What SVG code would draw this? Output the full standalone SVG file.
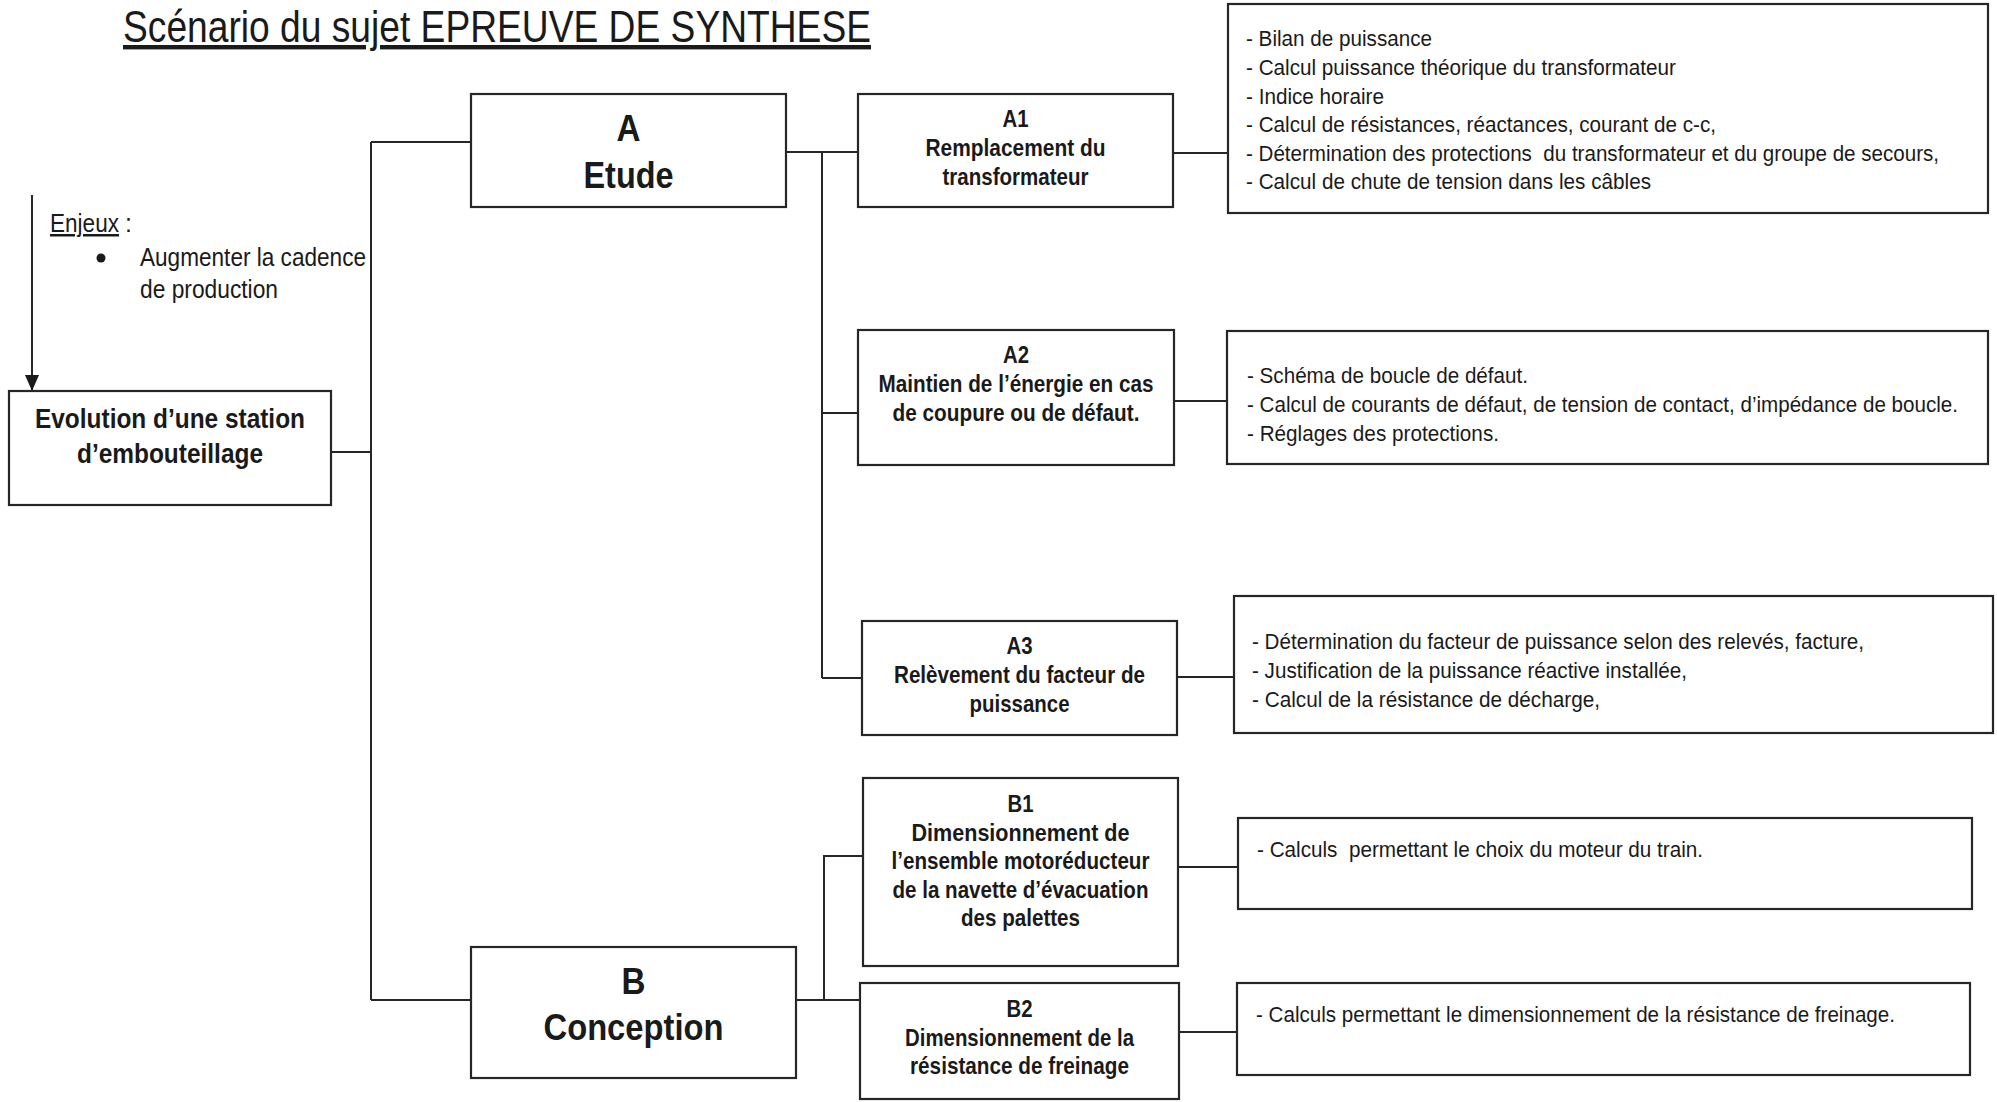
<svg xmlns="http://www.w3.org/2000/svg" width="1997" height="1102" viewBox="0 0 1997 1102">
<defs>
<marker id="arr" viewBox="0 0 16 14" refX="16" refY="7" markerWidth="16" markerHeight="14" markerUnits="userSpaceOnUse" orient="auto">
<path d="M0,0 L16,7 L0,14 Z" fill="#1a1a1a"/>
</marker>
<style>
.box{fill:#ffffff;stroke:#262626;stroke-width:2.2}
.ln{fill:none;stroke:#262626;stroke-width:2}
text{font-family:"Liberation Sans",Arial,sans-serif;fill:#1a1a1a}
.b{font-weight:bold;text-anchor:middle}
.s22{font-size:24px}
.s33{font-size:37px}
.s24{font-size:27px}
.d{font-size:22px}
.r{font-size:25px}
</style>
</defs>
<rect width="1997" height="1102" fill="#ffffff"/>

<g id="title">
<text x="123" y="42" font-size="44" textLength="748" lengthAdjust="spacingAndGlyphs" text-decoration="underline">Scénario du sujet EPREUVE DE SYNTHESE</text>
</g>

<g id="enjeux">
<text x="50" y="232" class="r" textLength="69" lengthAdjust="spacingAndGlyphs" text-decoration="underline">Enjeux</text>
<text x="125" y="232" class="r">:</text>
<circle cx="101" cy="258" r="4.5" fill="#1a1a1a"/>
<text x="140" y="266" class="r" textLength="226" lengthAdjust="spacingAndGlyphs">Augmenter la cadence</text>
<text x="140" y="298" class="r" textLength="138" lengthAdjust="spacingAndGlyphs">de production</text>
</g>

<g id="connectors">
<path class="ln" d="M32,195 V391" marker-end="url(#arr)"/>
<path class="ln" d="M331,452 H371"/>
<path class="ln" d="M371,142 V1000"/>
<path class="ln" d="M371,142 H471"/>
<path class="ln" d="M371,1000 H471"/>
<path class="ln" d="M786,152 H858"/>
<path class="ln" d="M822,152 V678"/>
<path class="ln" d="M822,413 H858"/>
<path class="ln" d="M822,678 H862"/>
<path class="ln" d="M1173,153 H1228"/>
<path class="ln" d="M1174,401 H1227"/>
<path class="ln" d="M1177,677 H1234"/>
<path class="ln" d="M796,1000 H860"/>
<path class="ln" d="M824,1000 V856 H863"/>
<path class="ln" d="M1178,867 H1238"/>
<path class="ln" d="M1179,1032 H1237"/>
</g>

<g id="node-evolution">
<rect class="box" x="9" y="391" width="322" height="114"/>
<text class="b s24" x="170" y="428" textLength="270" lengthAdjust="spacingAndGlyphs">Evolution d’une station</text>
<text class="b s24" x="170" y="463" textLength="186" lengthAdjust="spacingAndGlyphs">d’embouteillage</text>
</g>

<g id="node-A">
<rect class="box" x="471" y="94" width="315" height="113"/>
<text class="b s33" x="628.5" y="141" textLength="24" lengthAdjust="spacingAndGlyphs">A</text>
<text class="b s33" x="628.5" y="188" textLength="90" lengthAdjust="spacingAndGlyphs">Etude</text>
</g>

<g id="node-B">
<rect class="box" x="471" y="947" width="325" height="131"/>
<text class="b s33" x="633.5" y="994" textLength="24" lengthAdjust="spacingAndGlyphs">B</text>
<text class="b s33" x="633.5" y="1040" textLength="180" lengthAdjust="spacingAndGlyphs">Conception</text>
</g>

<g id="node-A1">
<rect class="box" x="858" y="94" width="315" height="113"/>
<text class="b s22" x="1015.5" y="127" textLength="26" lengthAdjust="spacingAndGlyphs">A1</text>
<text class="b s22" x="1015.5" y="156" textLength="180" lengthAdjust="spacingAndGlyphs">Remplacement du</text>
<text class="b s22" x="1015.5" y="185" textLength="146" lengthAdjust="spacingAndGlyphs">transformateur</text>
</g>

<g id="node-A2">
<rect class="box" x="858" y="330" width="316" height="135"/>
<text class="b s22" x="1016" y="363" textLength="26" lengthAdjust="spacingAndGlyphs">A2</text>
<text class="b s22" x="1016" y="392" textLength="275" lengthAdjust="spacingAndGlyphs">Maintien de l’énergie en cas</text>
<text class="b s22" x="1016" y="421" textLength="247" lengthAdjust="spacingAndGlyphs">de coupure ou de défaut.</text>
</g>

<g id="node-A3">
<rect class="box" x="862" y="621" width="315" height="114"/>
<text class="b s22" x="1019.5" y="654" textLength="26" lengthAdjust="spacingAndGlyphs">A3</text>
<text class="b s22" x="1019.5" y="683" textLength="251" lengthAdjust="spacingAndGlyphs">Relèvement du facteur de</text>
<text class="b s22" x="1019.5" y="712" textLength="100" lengthAdjust="spacingAndGlyphs">puissance</text>
</g>

<g id="node-B1">
<rect class="box" x="863" y="778" width="315" height="188"/>
<text class="b s22" x="1020.5" y="812" textLength="26" lengthAdjust="spacingAndGlyphs">B1</text>
<text class="b s22" x="1020.5" y="841" textLength="218" lengthAdjust="spacingAndGlyphs">Dimensionnement de</text>
<text class="b s22" x="1020.5" y="869" textLength="258" lengthAdjust="spacingAndGlyphs">l’ensemble motoréducteur</text>
<text class="b s22" x="1020.5" y="898" textLength="256" lengthAdjust="spacingAndGlyphs">de la navette d’évacuation</text>
<text class="b s22" x="1020.5" y="926" textLength="119" lengthAdjust="spacingAndGlyphs">des palettes</text>
</g>

<g id="node-B2">
<rect class="box" x="860" y="983" width="319" height="116"/>
<text class="b s22" x="1019.5" y="1017" textLength="26" lengthAdjust="spacingAndGlyphs">B2</text>
<text class="b s22" x="1019.5" y="1046" textLength="229" lengthAdjust="spacingAndGlyphs">Dimensionnement de la</text>
<text class="b s22" x="1019.5" y="1074" textLength="219" lengthAdjust="spacingAndGlyphs">résistance de freinage</text>
</g>

<g id="detail-A1">
<rect class="box" x="1228" y="4" width="760" height="209"/>
<text class="d" x="1246" y="46" textLength="186" lengthAdjust="spacingAndGlyphs">- Bilan de puissance</text>
<text class="d" x="1246" y="75" textLength="430" lengthAdjust="spacingAndGlyphs">- Calcul puissance théorique du transformateur</text>
<text class="d" x="1246" y="104" textLength="138" lengthAdjust="spacingAndGlyphs">- Indice horaire</text>
<text class="d" x="1246" y="132" textLength="470" lengthAdjust="spacingAndGlyphs">- Calcul de résistances, réactances, courant de c-c,</text>
<text class="d" x="1246" y="161" textLength="693" lengthAdjust="spacingAndGlyphs" xml:space="preserve">- Détermination des protections  du transformateur et du groupe de secours,</text>
<text class="d" x="1246" y="189" textLength="405" lengthAdjust="spacingAndGlyphs">- Calcul de chute de tension dans les câbles</text>
</g>

<g id="detail-A2">
<rect class="box" x="1227" y="331" width="761" height="133"/>
<text class="d" x="1247" y="383" textLength="281" lengthAdjust="spacingAndGlyphs">- Schéma de boucle de défaut.</text>
<text class="d" x="1247" y="412" font-size="20" textLength="711" lengthAdjust="spacingAndGlyphs">- Calcul de courants de défaut, de tension de contact, d’impédance de boucle.</text>
<text class="d" x="1247" y="441" textLength="252" lengthAdjust="spacingAndGlyphs">- Réglages des protections.</text>
</g>

<g id="detail-A3">
<rect class="box" x="1234" y="596" width="759" height="137"/>
<text class="d" x="1252" y="649" textLength="612" lengthAdjust="spacingAndGlyphs">- Détermination du facteur de puissance selon des relevés, facture,</text>
<text class="d" x="1252" y="678" textLength="435" lengthAdjust="spacingAndGlyphs">- Justification de la puissance réactive installée,</text>
<text class="d" x="1252" y="707" textLength="348" lengthAdjust="spacingAndGlyphs">- Calcul de la résistance de décharge,</text>
</g>

<g id="detail-B1">
<rect class="box" x="1238" y="818" width="734" height="91"/>
<text class="d" x="1257" y="857" textLength="446" lengthAdjust="spacingAndGlyphs" xml:space="preserve">- Calculs  permettant le choix du moteur du train.</text>
</g>

<g id="detail-B2">
<rect class="box" x="1237" y="983" width="733" height="92"/>
<text class="d" x="1256" y="1022" textLength="639" lengthAdjust="spacingAndGlyphs">- Calculs permettant le dimensionnement de la résistance de freinage.</text>
</g>
</svg>
